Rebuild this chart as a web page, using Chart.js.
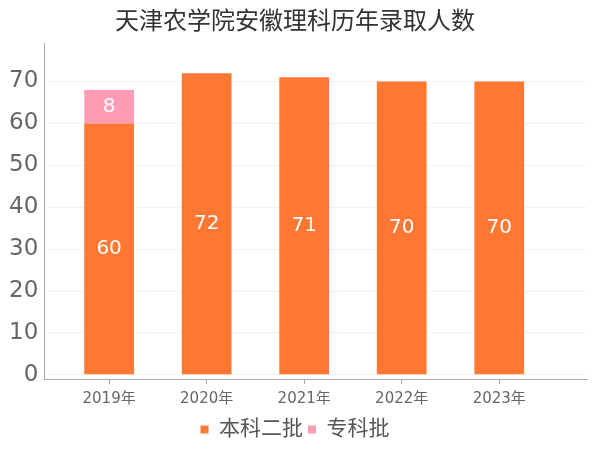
<!DOCTYPE html>
<html>
<head>
<meta charset="utf-8">
<script src="https://cdn.jsdelivr.net/npm/chart.js@4"></script>
<style>
  body { margin: 0; background: #fff; }
  #wrap { width: 600px; height: 450px; }
</style>
</head>
<body>
<div id="wrap"><canvas id="admitChart"></canvas></div>
<script>
// data
const years = ['2019年', '2020年', '2021年', '2022年', '2023年'];
const benke2 = [60, 72, 71, 70, 70];
const zhuanke = [8, null, null, null, null];
const yTicks = [0, 10, 20, 30, 40, 50, 60, 70];

const FONT = '"DejaVu Sans", "Noto Sans CJK SC", sans-serif';

// white value labels in the middle of each bar piece
const barLabels = {
    id: 'barLabels',
    afterDatasetsDraw(chart) {
        const ctx = chart.ctx;
        ctx.save();
        ctx.fillStyle = '#fff';
        ctx.font = '20px ' + FONT;
        ctx.textAlign = 'center';
        ctx.textBaseline = 'middle';
        chart.data.datasets.forEach((ds, i) => {
            chart.getDatasetMeta(i).data.forEach((bar, j) => {
                const v = ds.data[j].y;
                if (!v) return;
                ctx.fillText(v, bar.x, (bar.y + bar.base) / 2);
            });
        });
        ctx.restore();
    }
};

new Chart(document.getElementById('admitChart'), {
    type: 'bar',
    data: {
        datasets: [{
            label: '本科二批',
            data: benke2.map((v, i) => ({ x: i, y: v })),
            backgroundColor: '#FF7833'
        }, {
            label: '专科批',
            data: zhuanke.map((v, i) => ({ x: i, y: v })),
            backgroundColor: '#FF9BB5'
        }]
    },
    options: {
        responsive: true,
        maintainAspectRatio: false,
        animation: false,
        layout: { padding: { left: 3, right: 13, top: 0, bottom: 0 } },
        datasets: { bar: { barPercentage: 0.51, categoryPercentage: 1 } },
        plugins: {
            title: {
                display: true,
                text: '天津农学院安徽理科历年录取人数',
                color: '#333',
                font: { family: FONT, size: 24, weight: 'normal' },
                padding: { top: 8, bottom: 7 }
            },
            legend: {
                position: 'bottom',
                labels: {
                    boxWidth: 8, boxHeight: 8, padding: 5,
                    color: '#555',
                    font: { family: FONT, size: 21 }
                }
            },
            tooltip: { enabled: false }
        },
        scales: {
            x: {
                type: 'linear',
                stacked: true,
                offset: false,
                min: -0.665,
                max: 4.9,
                afterBuildTicks: axis => { axis.ticks = years.map((y, i) => ({ value: i })); },
                ticks: {
                    color: '#666',
                    font: { family: FONT, size: 15 },
                    padding: 6,
                    callback: v => years[v]
                },
                grid: { offset: false, drawOnChartArea: false, drawTicks: true, tickLength: 5, color: '#aaa' },
                border: { color: '#aaa' }
            },
            y: {
                stacked: true,
                min: -1,
                max: 79,
                afterBuildTicks: axis => { axis.ticks = yTicks.map(v => ({ value: v })); },
                ticks: {
                    color: '#666',
                    font: { family: FONT, size: 23 },
                    padding: 6
                },
                grid: { color: '#f2f2f2', drawTicks: false },
                border: { color: '#aaa' }
            }
        }
    },
    plugins: [barLabels]
});
</script>
</body>
</html>
